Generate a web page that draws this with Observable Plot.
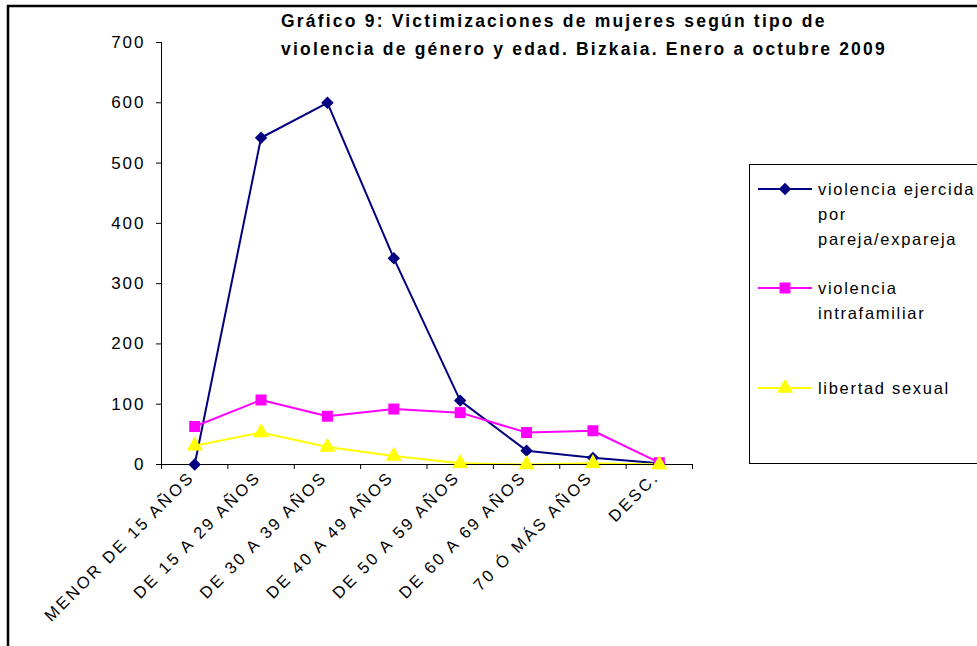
<!DOCTYPE html>
<html>
<head>
<meta charset="utf-8">
<script src="https://cdn.jsdelivr.net/npm/d3@7"></script>
<script src="https://cdn.jsdelivr.net/npm/@observablehq/plot@0.6"></script>
<style>
  html, body { margin: 0; padding: 0; background: #fff; overflow: hidden; }
  body { width: 977px; height: 646px; position: relative; font-family: "Liberation Sans", Arial, sans-serif; }
  #frameSvg { position: absolute; left: 0; top: 0; z-index: 6; pointer-events: none; }
  #chart { position: absolute; left: 0; top: 0; }
  #title { position: absolute; left: 281px; top: 7px; white-space: nowrap; text-align: left; font-weight: bold; font-size: 17.5px; line-height: 28px; letter-spacing: 2.2px; color: #000; z-index: 2; }
  #legend { position: absolute; left: 749px; top: 164px; width: 300px; height: 300px; border: 1px solid #000; box-sizing: border-box; background: #fff; }
  .entry { position: absolute; left: 8px; display: flex; align-items: flex-start; }
  .entry svg { flex: none; margin-top: 4px; }
  .entry span { font-size: 16.5px; line-height: 25px; letter-spacing: 1.7px; margin-left: 6px; color: #000; white-space: nowrap; }
  svg text { font-family: "Liberation Sans", Arial, sans-serif; }
  g[aria-label="y-axis tick label"] text { letter-spacing: 2px; }
  g[aria-label="x-axis tick label"] text { letter-spacing: 2.6px; }
</style>
</head>
<body>
<div id="chart"></div>
<div id="title">Gráfico 9: Victimizaciones de mujeres según tipo de<br>violencia de género y edad. Bizkaia. Enero a octubre 2009</div>
<div id="legend"></div>
<svg id="frameSvg" width="977" height="646"><path d="M8,660 V6 H990" fill="none" stroke="#000" stroke-width="2.5"/></svg>
<script>
const categories = ["MENOR DE 15 AÑOS", "DE 15 A 29 AÑOS", "DE 30 A 39 AÑOS", "DE 40 A 49 AÑOS", "DE 50 A 59 AÑOS", "DE 60 A 69 AÑOS", "70 Ó MÁS AÑOS", "DESC."];
const seriesNames = ["violencia ejercida por pareja/expareja", "violencia intrafamiliar", "libertad sexual"];
const pareja = [0, 542, 600, 342, 106, 23, 11, 2];
const intrafamiliar = [63, 107, 80, 92, 86, 53, 56, 3];
const libertad = [31, 53, 29, 14, 2, 0, 2, 0];
const yTicks = [0, 100, 200, 300, 400, 500, 600, 700];

const colors = ["#000080", "#FF00FF", "#FFFF00"];
const symbols = ["diamond2", "square", "triangle"];
const radii = [5.6, 6.2, 6.0];

const rows = [];
[pareja, intrafamiliar, libertad].forEach((vals, s) => {
  vals.forEach((v, i) => rows.push({series: seriesNames[s], s, idx: i + 0.5, cat: categories[i], value: v}));
});

const marks = [
  Plot.ruleX([0], {stroke: "#000", strokeWidth: 1}),
  Plot.axisY({ticks: yTicks, label: null, tickSize: 5, tickPadding: 11, fontSize: 17, tickFormat: d => String(d), stroke: "#000", color: "#000"}),
  Plot.axisX({ticks: d3.range(categories.length + 1), label: null, tickSize: 5, tickFormat: () => "", stroke: "#000"}),
  Plot.axisX({ticks: d3.range(categories.length).map(i => i + 0.5), label: null, tickSize: 0, tickPadding: 10, tickRotate: -45, dx: -3, fontSize: 16.5, tickFormat: d => categories[Math.round(d - 0.5)], color: "#000"}),
];
[0, 1, 2].forEach(s => {
  const data = rows.filter(r => r.s === s);
  marks.push(Plot.line(data, {x: "idx", y: "value", stroke: colors[s], strokeWidth: 2}));
});
marks.push(Plot.ruleY([0], {stroke: "#000", strokeWidth: 1}));
[0, 1, 2].forEach(s => {
  const data = rows.filter(r => r.s === s);
  marks.push(Plot.dot(data, {x: "idx", y: "value", symbol: () => symbols[s], r: radii[s], fill: colors[s], stroke: "none"}));
});

const chart = Plot.plot({
  width: 977,
  height: 646,
  marginLeft: 161,
  marginRight: 285,
  marginTop: 42,
  marginBottom: 182,
  style: {background: "transparent", color: "#000", fontFamily: "Liberation Sans, Arial, sans-serif", overflow: "visible"},
  x: {type: "linear", domain: [0, categories.length], axis: null},
  y: {domain: [0, 700], axis: null},
  symbol: {type: "identity"},
  marks
});
document.getElementById("chart").appendChild(chart);

// legend
const legend = document.getElementById("legend");
const entryTops = [12, 111, 211];
const legendLabels = [["violencia ejercida", "por", "pareja/expareja"], ["violencia", "intrafamiliar"], ["libertad sexual"]];
seriesNames.forEach((name, s) => {
  const div = document.createElement("div");
  div.className = "entry";
  div.style.top = entryTops[s] + "px";
  const sw = d3.create("svg").attr("width", 54).attr("height", 16);
  sw.append("line").attr("x1", 0).attr("x2", 54).attr("y1", 8).attr("y2", 8).attr("stroke", colors[s]).attr("stroke-width", 2);
  sw.append("path").attr("transform", "translate(27,8)").attr("d", d3.symbol(s === 0 ? d3.symbolDiamond2 : s === 1 ? d3.symbolSquare : d3.symbolTriangle, Math.PI * radii[s] * radii[s])()).attr("fill", colors[s]);
  div.appendChild(sw.node());
  const span = document.createElement("span");
  span.innerHTML = legendLabels[s].join("<br>");
  div.appendChild(span);
  legend.appendChild(div);
});
</script>
</body>
</html>
